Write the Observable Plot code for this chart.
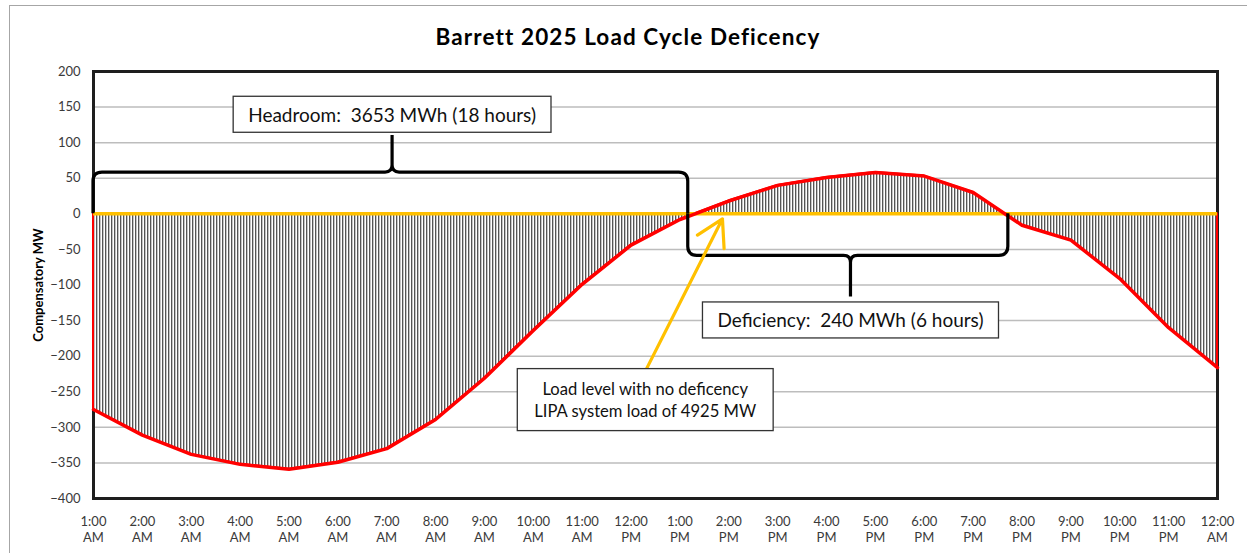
<!DOCTYPE html>
<html><head><meta charset="utf-8">
<script src="https://cdn.jsdelivr.net/npm/d3@7"></script>
<script src="https://cdn.jsdelivr.net/npm/@observablehq/plot@0.6"></script>
<style>
body{margin:0;background:#fff;width:1247px;height:553px;overflow:hidden;position:relative;font-family:Lato,"Open Sans",sans-serif;}
#border{position:absolute;left:9px;top:5px;width:1300px;height:600px;border-left:1.5px solid #a6a6a6;border-top:1.5px solid #a6a6a6;}
#title{position:absolute;left:9px;width:1238px;top:24px;text-align:center;font-weight:bold;font-size:22.5px;letter-spacing:1.1px;color:#000;line-height:26px;}
#chart{position:absolute;left:0;top:55px;}
</style></head><body>
<div id="border"></div>
<div id="title">Barrett 2025 Load Cycle Deficency</div>
<div id="chart"></div>
<script>
// ---- data ----
const hourLabels = ["1:00 AM","2:00 AM","3:00 AM","4:00 AM","5:00 AM","6:00 AM","7:00 AM","8:00 AM","9:00 AM","10:00 AM","11:00 AM","12:00 PM",
                    "1:00 PM","2:00 PM","3:00 PM","4:00 PM","5:00 PM","6:00 PM","7:00 PM","8:00 PM","9:00 PM","10:00 PM","11:00 PM","12:00 AM"];
const compensatoryMW = [-275,-311,-338,-352,-359,-349,-330,-289,-231,-164,-99,-44,-8,18,40,51,58,53,30,-16,-37,-91,-160,-216];
const yTicks = [-400,-350,-300,-250,-200,-150,-100,-50,0,50,100,150,200];
const gridLevels = [-350,-300,-250,-200,-150,-100,-50,50,100,150];
const noDeficiencyLevel = [0];
const yAxisTitle = "Compensatory MW";
// braces: span in hour index, arm level and tip in MW
const braceFrom = [0, 12.17];
const braceTo = [12.17, 18.72];
const braceArm = [58, -59];
const braceTipX = [6.12, 15.5];
const braceTipY = [110, -117];
// annotation boxes (center in data units)
const noteText = ["Headroom:  3653 MWh (18 hours)", "Deficiency:  240 MWh (6 hours)", "Load level with no deficency\nLIPA system load of 4925 MW"];
const noteX = [6.12, 15.5, 11.3];
const noteY = [138, -151, -262];
// arrow from note to the zero line
const arrowFrom = [11.3, -220];
const arrowTo = [12.87, -7];

const data = compensatoryMW.map((v, i) => ({i, v, label: hourLabels[i]}));
const braces = braceFrom.map((x0, k) => ({x0, x1: braceTo[k], arm: braceArm[k], tx: braceTipX[k], ty: braceTipY[k]}));
const notes = noteText.map((t, k) => ({t, x: noteX[k], y: noteY[k]}));
const noteFont = [19, 19, 16.6];
const padX = [15, 15, 17], padY = [6.5, 6.5, 10];

const defsMark = () => {
  const defs = d3.create("svg:defs");
  const p = defs.append("pattern").attr("id", "hatch").attr("patternUnits", "userSpaceOnUse")
    .attr("width", 3).attr("height", 10);
  p.append("rect").attr("width", 3).attr("height", 10).attr("fill", "#ffffff");
  p.append("rect").attr("x", 0).attr("width", 1).attr("height", 10).attr("fill", "#555555");
  p.append("rect").attr("x", 1).attr("width", 1).attr("height", 10).attr("fill", "#c4c4c4");
  return defs.node();
};

const braceMark = (index, scales) => {
  const g = d3.create("svg:g").attr("fill", "none").attr("stroke", "#000").attr("stroke-width", 3.2)
    .attr("stroke-linejoin", "round");
  for (const b of braces) {
    const x0 = scales.x(b.x0), x1 = scales.x(b.x1), yb = scales.y(0), ya = scales.y(b.arm);
    const xm = scales.x(b.tx), yt = scales.y(b.ty);
    const s = Math.sign(yb - ya);
    const r = 9, rt = 7;
    const d = `M${x0},${yb} L${x0},${ya + s * r} Q${x0},${ya} ${x0 + r},${ya} L${xm - rt},${ya} Q${xm},${ya} ${xm},${ya - s * rt} L${xm},${yt}`
      + ` M${xm},${yt} L${xm},${ya - s * rt} Q${xm},${ya} ${xm + rt},${ya} L${x1 - r},${ya} Q${x1},${ya} ${x1},${ya + s * r} L${x1},${yb}`;
    g.append("path").attr("d", d);
  }
  return g.node();
};

const noteMark = (index, scales) => {
  const g = d3.create("svg:g").attr("class", "notes");
  notes.forEach((n, k) => {
    const ng = g.append("g").attr("class", "note").attr("transform", `translate(${scales.x(n.x)},${scales.y(n.y)})`);
    ng.append("rect").attr("fill", "#fff").attr("stroke", "#333").attr("stroke-width", 1.3);
    const lines = n.t.split("\n");
    const lh = 22;
    const t = ng.append("text").attr("text-anchor", "middle").attr("font-size", noteFont[k]).attr("fill", "#111")
      .attr("font-family", "Lato, 'Open Sans', sans-serif");
    lines.forEach((l, j) => t.append("tspan").attr("x", 0).attr("y", (j - (lines.length - 1) / 2) * lh).attr("dy", "0.35em").text(l));
  });
  return g.node();
};

const chart = Plot.plot({
  width: 1247,
  height: 498,
  marginLeft: 93,
  marginRight: 30,
  marginTop: 16,
  marginBottom: 55,
  style: {fontFamily: "Lato, 'Open Sans', sans-serif", fontSize: "13px", color: "#3a3a3a", background: "transparent"},
  x: {type: "linear", domain: [0, hourLabels.length - 1]},
  y: {domain: [-400, 200]},
  marks: [
    defsMark,
    Plot.ruleY(gridLevels, {stroke: "#bdbdbd", strokeWidth: 1.5}),
    Plot.frame({stroke: "#1e1e1e", strokeWidth: 3}),
    Plot.areaY(data, {x: "i", y: "v", fill: "url(#hatch)", stroke: "#ff0000", strokeWidth: 2}),
    Plot.ruleY(noDeficiencyLevel, {stroke: "#ffc000", strokeWidth: 3.5}),
    Plot.lineY(data, {x: "i", y: "v", stroke: "#ff0000", strokeWidth: 3.5, strokeLinejoin: "round"}),
    braceMark,
    Plot.arrow([0], {x1: () => arrowFrom[0], y1: () => arrowFrom[1], x2: () => arrowTo[0], y2: () => arrowTo[1],
      stroke: "#ffc000", strokeWidth: 3.2, headLength: 14, bend: 0}),
    noteMark,
    Plot.axisX({ticks: hourLabels.map((_, i) => i), tickFormat: i => hourLabels[i].replace(" ", "\n"),
      tickSize: 0, tickPadding: 15, lineHeight: 1.3, label: null, fontSize: 13}),
    Plot.axisY({ticks: yTicks, tickSize: 0, tickPadding: 13, label: null, fontSize: 13}),
    Plot.text([yAxisTitle], {frameAnchor: "left", y: () => (yTicks[0] + yTicks[yTicks.length - 1]) / 2, text: d => d,
      textAnchor: "middle", rotate: -90, dx: -55, fontWeight: "bold", fontSize: 13, fill: "#000"})
  ]
});
document.getElementById("chart").appendChild(chart);

// size boxes around note texts
chart.querySelectorAll("g.note").forEach((ng, k) => {
  const bb = ng.querySelector("text").getBBox();
  d3.select(ng).select("rect")
    .attr("x", bb.x - padX[k]).attr("y", bb.y - padY[k])
    .attr("width", bb.width + 2 * padX[k]).attr("height", bb.height + 2 * padY[k]);
});
</script>
</body></html>
